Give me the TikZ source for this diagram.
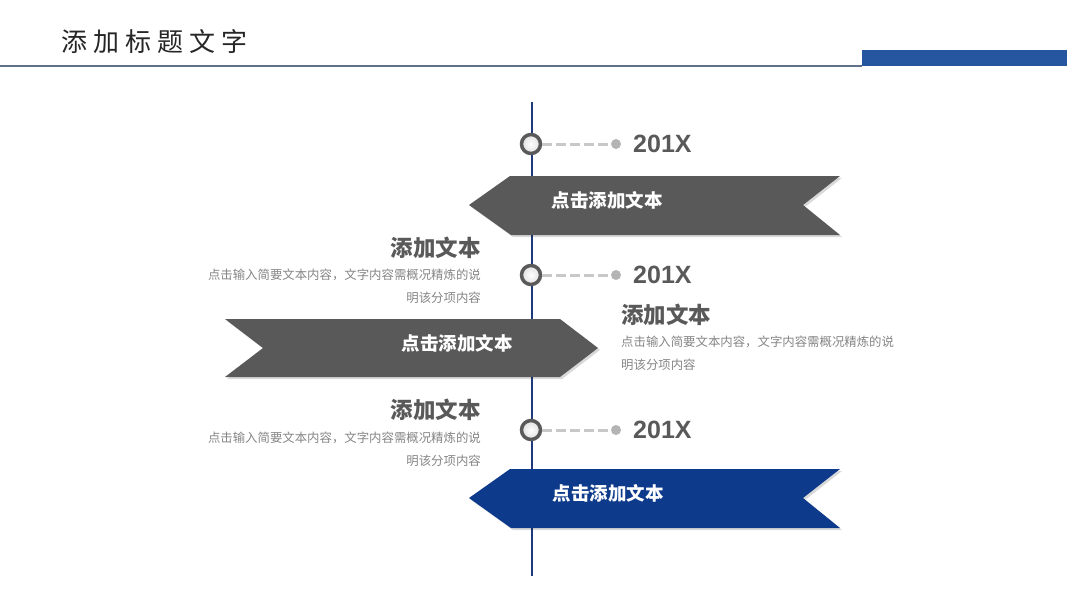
\documentclass[tikz,border=0pt]{standalone}
\usepackage{fontspec}
\setmainfont{Liberation Sans}
\newfontfamily\cjk{Noto Sans CJK SC}
\definecolor{bannergrey}{HTML}{595959}
\definecolor{bannerblue}{HTML}{0E3A8C}
\definecolor{topblue}{HTML}{2656A0}
\definecolor{axisblue}{HTML}{1F3A7A}
\definecolor{ringgrey}{HTML}{5A5A5A}
\definecolor{dashgrey}{HTML}{C8C8C8}
\definecolor{dotgrey}{HTML}{B4B4B4}
\definecolor{headgrey}{HTML}{595959}
\definecolor{smallgrey}{HTML}{858585}
\definecolor{rulegrey}{HTML}{5F7188}
\tikzset{
  bannertext/.style={text=white,font=\cjk\bfseries\fontsize{18.5}{20}\selectfont,inner sep=0pt},
  heading/.style={text=headgrey,font=\cjk\bfseries\fontsize{22.5}{24}\selectfont,inner sep=0pt},
  smalltext/.style={text=smallgrey,font=\cjk\fontsize{12.4}{14}\selectfont,inner sep=0pt},
  yeartext/.style={text=headgrey,font=\bfseries\fontsize{25}{28}\selectfont,inner sep=0pt,anchor=west},
  ring/.style={circle,draw=ringgrey,line width=3.5pt,minimum size=19pt,inner sep=0pt,inner color=white,outer color=gray!25},
  dotnode/.style={circle,fill=dotgrey,minimum size=10pt,inner sep=0pt},
  dashline/.style={draw=dashgrey,line width=3pt,dash pattern=on 10pt off 4pt},
  shadowshape/.style={fill=black,opacity=0.15},
}
\begin{document}
\begin{tikzpicture}[x=1pt,y=-1pt]
\useasboundingbox (0,0) rectangle (1067,600);
% header
\node[anchor=west,inner sep=0pt,text=black!85,font=\cjk\fontsize{26}{28}\selectfont] (title) at (61,42)
  {添\hspace{6pt}加\hspace{6pt}标\hspace{6pt}题\hspace{6pt}文\hspace{6pt}字};
\draw[rulegrey,line width=1.3pt] (0,66) -- (862,66);
\fill[topblue] (862,50) rectangle (1067,66);
% axis
\coordinate (axtop) at (532,102);
\coordinate (axbot) at (532,576);
\draw[axisblue,line width=2.5pt] (axtop) -- (axbot);
% banner shadows
\fill[shadowshape] (471,207) -- (512,178) -- (842,178) -- (805,207) -- (842,237) -- (513,237) -- cycle;
\fill[shadowshape] (227,321) -- (562,321) -- (600,350) -- (562,379) -- (227,379) -- (265,350) -- cycle;
\fill[shadowshape] (471,500) -- (512,471) -- (842,471) -- (805,500) -- (842,530) -- (513,530) -- cycle;
% banners
\fill[bannergrey] (469,205) -- (510,176) -- (840,176) -- (803,205) -- (840,235) -- (511,235) -- cycle;
\node[bannertext] (b1) at (607,200) {点击添加文本};
\fill[bannergrey] (225,319) -- (560,319) -- (598,348) -- (560,377) -- (225,377) -- (263,348) -- cycle;
\node[bannertext] (b2) at (457,343) {点击添加文本};
\fill[bannerblue] (469,498) -- (510,469) -- (840,469) -- (803,498) -- (840,528) -- (511,528) -- cycle;
\node[bannertext] (b3) at (608,493) {点击添加文本};
% markers
\foreach \i/\y in {1/144,2/275,3/430}{
  \node[dotnode] (d\i) at (616,\y) {};
  \node[ring] (r\i) at (531,\y) {};
  \draw[dashline] (r\i.east) -- (d\i.west);
  \node[yeartext] (y\i) at (633,\y) {201X};
}
% text blocks
\node[heading,anchor=east] (h1) at (481,248) {添加文本};
\node[smalltext,anchor=east] (s1a) at (481,275) {点击输入简要文本内容，文字内容需概况精炼的说};
\node[smalltext,anchor=east] (s1b) at (481,298) {明该分项内容};
\node[heading,anchor=west] (h2) at (621,315) {添加文本};
\node[smalltext,anchor=west] (s2a) at (621,342) {点击输入简要文本内容，文字内容需概况精炼的说};
\node[smalltext,anchor=west] (s2b) at (621,365) {明该分项内容};
\node[heading,anchor=east] (h3) at (481,410) {添加文本};
\node[smalltext,anchor=east] (s3a) at (481,438) {点击输入简要文本内容，文字内容需概况精炼的说};
\node[smalltext,anchor=east] (s3b) at (481,461) {明该分项内容};
\end{tikzpicture}
\end{document}
